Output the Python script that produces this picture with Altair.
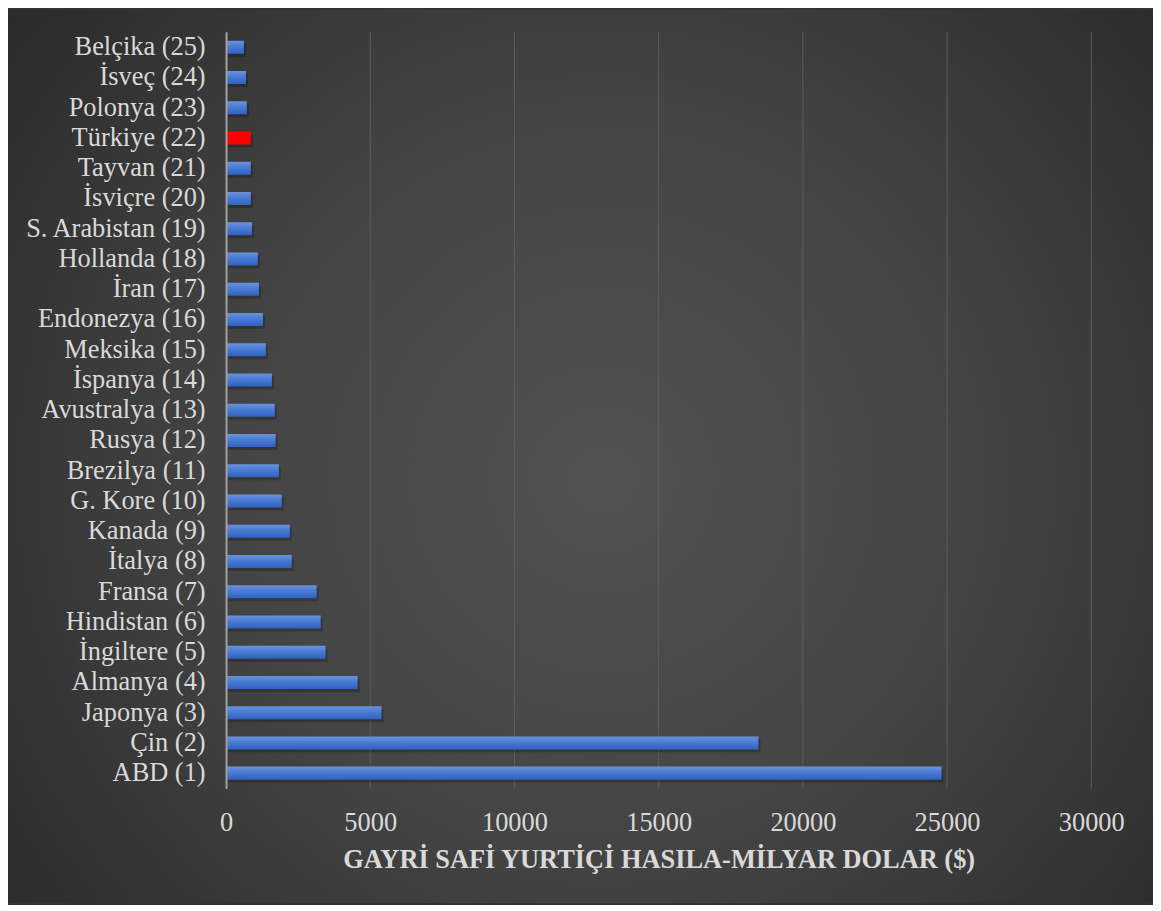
import altair as alt
import pandas as pd

countries = ["Belçika (25)", "İsveç (24)", "Polonya (23)", "Türkiye (22)", "Tayvan (21)",
             "İsviçre (20)", "S. Arabistan (19)", "Hollanda (18)", "İran (17)", "Endonezya (16)",
             "Meksika (15)", "İspanya (14)", "Avustralya (13)", "Rusya (12)", "Brezilya (11)",
             "G. Kore (10)", "Kanada (9)", "İtalya (8)", "Fransa (7)", "Hindistan (6)",
             "İngiltere (5)", "Almanya (4)", "Japonya (3)", "Çin (2)", "ABD (1)"]
gdp = [620, 690, 720, 860, 860, 860, 900, 1100, 1140, 1280,
       1380, 1590, 1690, 1720, 1830, 1930, 2210, 2280, 3140, 3280,
       3450, 4560, 5390, 18460, 24810]
highlight = "Türkiye (22)"
x_ticks = [0, 5000, 10000, 15000, 20000, 25000, 30000]
x_title = "GAYRİ SAFİ YURTİÇİ HASILA-MİLYAR DOLAR ($)"

df = pd.DataFrame({"country": countries, "gdp": gdp})
grid_df = pd.DataFrame({"gdp": x_ticks[1:]})

W, H = 869, 760
PL, PT, PR, PB = 219, 22, 62, 115
FONT = "Liberation Serif"
TXT = "#d9d9d9"

x_scale = alt.Scale(domain=[0, 30000], nice=False)
x_axis = alt.Axis(values=x_ticks, format="d", title=x_title, ticks=False,
                  domain=False, grid=False, zindex=1, labelFlush=False,
                  labelFontSize=26.5, labelColor=TXT, labelFont=FONT,
                  labelPadding=21, titleFont=FONT, titleFontSize=26.5,
                  titleFontWeight="bold", titleColor=TXT,
                  titleBaseline="middle", titleY=71)

y_enc = alt.Y("country:N", sort=countries,
              scale=alt.Scale(paddingInner=0.57, paddingOuter=0.295),
              axis=alt.Axis(title=None, ticks=False, labelPadding=21, labelFontSize=26.5,
                            labelColor=TXT, labelFont=FONT, domainColor="#a0a0a0",
                            domainWidth=2, grid=False, labelLimit=400, zindex=1))
x_enc = alt.X("gdp:Q", scale=x_scale, axis=x_axis)

bg = alt.Chart(pd.DataFrame({"a": [0]})).mark_rect(
    fill=alt.Gradient(gradient="radial",
                      stops=[alt.GradientStop(color="#525252", offset=0),
                             alt.GradientStop(color="#444444", offset=0.45),
                             alt.GradientStop(color="#262626", offset=1)],
                      x1=0.52, y1=0.52, r1=0, x2=0.52, y2=0.52, r2=0.72)
).encode(x=alt.value(-PL), x2=alt.value(W + PR), y=alt.value(-PT), y2=alt.value(H + PB))

grid = alt.Chart(grid_df).mark_rule(color="#5e5e5e", strokeWidth=1).encode(x=x_enc)

base = alt.Chart(df)

shadow = base.mark_bar(color="#000000", opacity=0.22, yOffset=3, xOffset=2).encode(
    x=x_enc, y=y_enc)

blue = base.transform_filter(alt.datum.country != highlight).mark_bar(
    fill=alt.Gradient(gradient="linear",
                      stops=[alt.GradientStop(color="#6a93dc", offset=0),
                             alt.GradientStop(color="#4a7bd4", offset=0.45),
                             alt.GradientStop(color="#2f62c0", offset=1)],
                      x1=0, x2=0, y1=0, y2=1)
).encode(x=x_enc, y=y_enc)

red = base.transform_filter(alt.datum.country == highlight).mark_bar(
    color="#ff0000").encode(x=x_enc, y=y_enc)

chart = alt.layer(bg, grid, shadow, blue, red).properties(
    width=W, height=H,
    autosize=alt.AutoSizeParams(type="none"),
    padding={"left": PL, "top": PT, "right": PR, "bottom": PB},
    background="#333333",
).configure_view(stroke=None)

chart.save("out.html", embed_options={"renderer": "svg", "actions": False})
